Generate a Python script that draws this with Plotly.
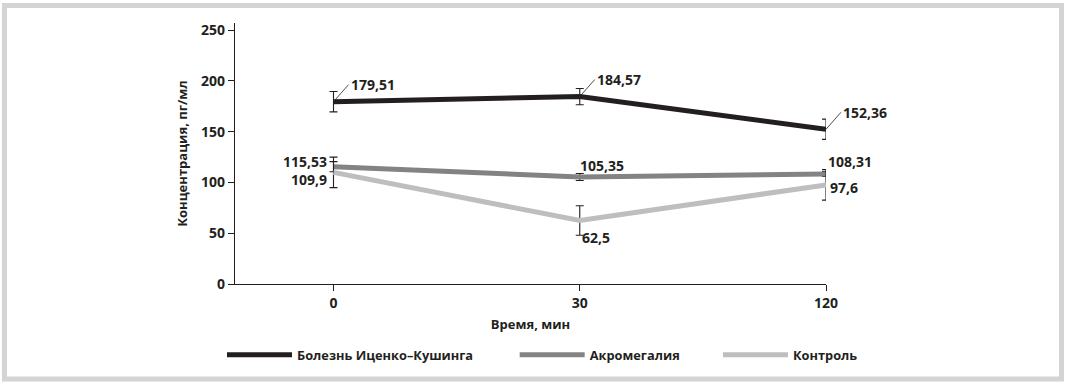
import plotly.graph_objects as go

# ---- data ----
times = ["0", "30", "120"]
cushing = [179.51, 184.57, 152.36]
cushing_err = [10, 8, 10]
acro = [115.53, 105.35, 108.31]
acro_err = [5, 3.5, 2.5]
control = [109.9, 62.5, 97.6]
control_err = [15, 14.5, 15]
series_names = ["Болезнь Иценко–Кушинга", "Акромегалия", "Контроль"]
y_ticks = [0, 50, 100, 150, 200, 250]

# ---- layout constants ----
W, H = 1066, 385
ML, MR, MT, MB = 235, 240, 23, 101
PW, PH = W - ML - MR, H - MT - MB
INK = "#231f20"
FONT = "Open Sans"
colors = [INK, "#838383", "#bebec0"]


def lab(v):
    return f"{v:g}".replace(".", ",")


fig = go.Figure()
pads = ["\u00a0" * 11, "\u00a0" * 10, ""]
for i, (vals, errs) in enumerate([(cushing, cushing_err), (acro, acro_err), (control, control_err)]):
    fig.add_trace(go.Scatter(
        x=times, y=vals, mode="lines", name=series_names[i] + pads[i],
        line=dict(color=colors[i], width=5),
        error_y=dict(type="data", array=errs, visible=True, color=INK, thickness=1.1, width=4),
    ))

ann = []
# Cushing labels with leader lines
for i, v in enumerate(cushing):
    ann.append(dict(x=i, y=v, text=lab(v), showarrow=True, arrowhead=0, arrowwidth=0.8,
                    arrowcolor=INK, ax=15, ay=-17, xanchor="left", yanchor="middle"))
# Acromegaly labels
acro_pos = [dict(xanchor="right", xshift=-5, yshift=5),
            dict(xanchor="left", xshift=-2, yshift=12),
            dict(xanchor="left", xshift=0, yshift=13)]
for i, (v, p) in enumerate(zip(acro, acro_pos)):
    ann.append(dict(x=i, y=v, text=lab(v), showarrow=False, **p))
control_pos = [dict(xanchor="right", xshift=-5, yshift=-7),
               dict(xanchor="left", xshift=0, yshift=-17),
               dict(xanchor="left", xshift=2, yshift=-3)]
for i, (v, p) in enumerate(zip(control, control_pos)):
    ann.append(dict(x=i, y=v, text=lab(v), showarrow=False, **p))


def px2x(px):
    return (px - ML) / PW


def py2y(py):
    return (H - MB - py) / PH


# frame around whole picture
shapes = [dict(type="rect", xref="paper", yref="paper",
               x0=px2x(4.5), x1=px2x(1061.5), y0=py2y(379), y1=py2y(5.5),
               line=dict(color="#d4d4d6", width=5), fillcolor="rgba(0,0,0,0)", layer="below")]

fig.update_layout(
    width=W, height=H,
    margin=dict(l=ML, r=MR, t=MT, b=MB),
    paper_bgcolor="white", plot_bgcolor="white",
    font=dict(family=FONT, size=14, color=INK, weight="bold"),
    showlegend=True,
    legend=dict(orientation="h", x=px2x(222), xanchor="left", y=py2y(355), yanchor="middle",
                itemwidth=65, font=dict(size=12.8, family=FONT, color=INK, weight="bold"),
                bgcolor="rgba(0,0,0,0)"),
    annotations=ann,
    shapes=shapes,
    xaxis=dict(type="category", categoryorder="array", categoryarray=times,
               range=[-0.4, 2], showgrid=False, zeroline=False,
               showline=True, linecolor=INK, linewidth=1.2,
               ticks="outside", ticklen=6, tickcolor=INK, tickwidth=1.2,
               title=dict(text="Время, мин", standoff=8, font=dict(size=13, family=FONT, weight="bold")),
               tickfont=dict(size=14, family=FONT, weight="bold")),
    yaxis=dict(range=[0, 257], tickvals=y_ticks, showgrid=False, zeroline=False,
               showline=True, linecolor=INK, linewidth=1.2,
               ticks="outside", ticklen=6, tickcolor=INK, tickwidth=1.2,
               title=dict(text="Концентрация, пг/мл", standoff=10, font=dict(size=13, family=FONT, weight="bold")),
               tickfont=dict(size=14, family=FONT, weight="bold")),
)

fig.write_html("out.html", config={"displayModeBar": False},
               post_script="document.body.style.margin='0';")
